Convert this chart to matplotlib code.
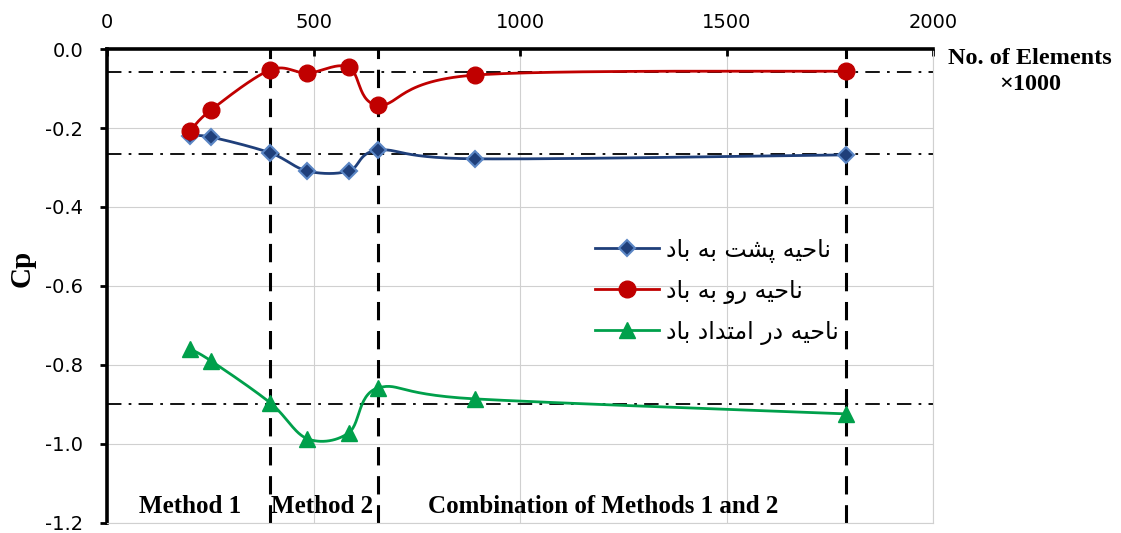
import numpy as np
import matplotlib
matplotlib.use("Agg")
import matplotlib.pyplot as plt
from matplotlib.lines import Line2D

# ---------------- data ----------------
elements = [200, 252, 395, 485, 585, 657, 890, 1790]          # x (No. of elements x1000)
cp_leeward = [-0.220, -0.223, -0.263, -0.309, -0.309, -0.256, -0.278, -0.268]
cp_windward = [-0.208, -0.154, -0.053, -0.061, -0.046, -0.142, -0.066, -0.056]
cp_along = [-0.759, -0.790, -0.896, -0.987, -0.972, -0.858, -0.886, -0.924]
ref_levels = [-0.058, -0.267, -0.900]
method_bounds = [395, 657, 1790]
label_leeward = "ناحیه پشت به باد"
label_windward = "ناحیه رو به باد"
label_along = "ناحیه در امتداد باد"
method_labels = ["Method 1", "Method 2", "Combination of Methods 1 and 2"]
method_label_x = [201, 521, 1202]
x_ticks = [0, 500, 1000, 1500, 2000]
y_ticks = [0.0, -0.2, -0.4, -0.6, -0.8, -1.0, -1.2]

# ------------- simple Persian shaping (presentation forms + RTL) -------------
FORMS = {
    'ا': ('\uFE8D', '\uFE8E', None, None),
    'ب': ('\uFE8F', '\uFE90', '\uFE91', '\uFE92'),
    'پ': ('\uFB56', '\uFB57', '\uFB58', '\uFB59'),
    'ت': ('\uFE95', '\uFE96', '\uFE97', '\uFE98'),
    'ح': ('\uFEA1', '\uFEA2', '\uFEA3', '\uFEA4'),
    'د': ('\uFEA9', '\uFEAA', None, None),
    'ر': ('\uFEAD', '\uFEAE', None, None),
    'ش': ('\uFEB5', '\uFEB6', '\uFEB7', '\uFEB8'),
    'م': ('\uFEE1', '\uFEE2', '\uFEE3', '\uFEE4'),
    'ن': ('\uFEE5', '\uFEE6', '\uFEE7', '\uFEE8'),
    'ه': ('\uFEE9', '\uFEEA', '\uFEEB', '\uFEEC'),
    'و': ('\uFEED', '\uFEEE', None, None),
    '\u06CC': ('\uFBFC', '\uFBFD', '\uFBFE', '\uFBFF'),
    '\u064A': ('\uFBFC', '\uFBFD', '\uFBFE', '\uFBFF'),
}


def shape(text):
    out = []
    n = len(text)
    for i, ch in enumerate(text):
        if ch not in FORMS:
            out.append(ch)
            continue
        f = FORMS[ch]
        prev_j = i > 0 and text[i - 1] in FORMS and FORMS[text[i - 1]][2] is not None
        next_j = (i < n - 1 and text[i + 1] in FORMS and f[2] is not None)
        if prev_j and next_j:
            out.append(f[3])
        elif prev_j:
            out.append(f[1])
        elif next_j:
            out.append(f[2])
        else:
            out.append(f[0])
    return ''.join(out)[::-1]


def smooth(x, y, n=30):
    """Catmull-Rom / Bezier smoothing of the connecting line (like Excel smooth line)."""
    x = np.asarray(x, float)
    y = np.asarray(y, float)
    P = np.column_stack([x, y])
    pts = []
    for i in range(len(P) - 1):
        p0 = P[i - 1] if i > 0 else P[i]
        p1 = P[i]
        p2 = P[i + 1]
        p3 = P[i + 2] if i + 2 < len(P) else P[i + 1]
        c1 = p1 + (p2 - p0) / 6.0
        c2 = p2 - (p3 - p1) / 6.0
        t = np.linspace(0, 1, n)[:, None]
        seg = ((1 - t) ** 3) * p1 + 3 * ((1 - t) ** 2) * t * c1 + 3 * (1 - t) * t ** 2 * c2 + t ** 3 * p2
        pts.append(seg if i == 0 else seg[1:])
    pts = np.vstack(pts)
    return pts[:, 0], pts[:, 1]


plt.rcParams['axes.unicode_minus'] = False

fig = plt.figure(figsize=(11.21, 5.33), dpi=100)
ax = fig.add_axes([0.0955, 0.019, 0.737, 0.889])

ax.set_xlim(0, 2000)
ax.set_ylim(-1.2, 0.0)

# grid
ax.set_xticks(x_ticks)
ax.set_yticks(y_ticks)
ax.grid(True, color='#d0d0d0', linewidth=0.8, zorder=0)

# reference horizontal dash-dot lines
for lv in ref_levels:
    ax.axhline(lv, color='black', linewidth=1.3, linestyle=(0, (8, 4, 1.5, 4)), zorder=2)

# method boundary dashed lines
for b in method_bounds:
    ax.axvline(b, color='black', linewidth=2.2, linestyle=(0, (6, 3.5)), zorder=2)

# series
c_blue = '#1F3F7A'
c_red = '#C00000'
c_green = '#00A04B'

sx, sy = smooth(elements, cp_leeward)
ax.plot(sx, sy, color=c_blue, linewidth=2, zorder=3)
ax.plot(elements, cp_leeward, linestyle='none', marker='D', markersize=8,
        markerfacecolor=c_blue, markeredgecolor='#5B86C5', markeredgewidth=1.5, zorder=4)

sx, sy = smooth(elements, cp_windward)
ax.plot(sx, sy, color=c_red, linewidth=2, zorder=3)
ax.plot(elements, cp_windward, linestyle='none', marker='o', markersize=12,
        markerfacecolor=c_red, markeredgecolor=c_red, zorder=4)

sx, sy = smooth(elements, cp_along)
ax.plot(sx, sy, color=c_green, linewidth=2, zorder=3)
ax.plot(elements, cp_along, linestyle='none', marker='^', markersize=12,
        markerfacecolor=c_green, markeredgecolor=c_green, zorder=4)

# spines and ticks
ax.xaxis.tick_top()
ax.spines['left'].set_linewidth(2.6)
ax.spines['top'].set_linewidth(2.6)
ax.spines['right'].set_color('#d0d0d0')
ax.spines['right'].set_linewidth(0.8)
ax.spines['bottom'].set_color('#d0d0d0')
ax.spines['bottom'].set_linewidth(0.8)
ax.tick_params(axis='x', direction='in', length=5, width=2, pad=12, labelsize=14,
               top=True, bottom=False, labeltop=True, labelbottom=False)
ax.tick_params(axis='y', direction='out', length=5, width=2, pad=12, labelsize=14)
ax.set_xticklabels([str(v) for v in x_ticks])
ax.set_yticklabels([f"{v:.1f}" for v in y_ticks])

fig.text(22 / 1121, 1 - 268 / 533, 'Cp', rotation=90, ha='center', va='center',
         fontfamily='Liberation Serif', fontweight='bold', fontsize=21)

fig.text(1030 / 1121, 1 - 58 / 533, 'No. of Elements', ha='center', va='center',
         fontfamily='Liberation Serif', fontweight='bold', fontsize=17.5)
fig.text(1030 / 1121, 1 - 84 / 533, '\u00d71000', ha='center', va='center',
         fontfamily='Liberation Serif', fontweight='bold', fontsize=17.5)

for lbl, xx in zip(method_labels, method_label_x):
    ax.text(xx, -1.159, lbl, ha='center', va='center', fontfamily='Liberation Serif',
            fontweight='bold', fontsize=18, zorder=5)

handles = [
    Line2D([], [], color=c_blue, linewidth=2, marker='D', markersize=8,
           markerfacecolor=c_blue, markeredgecolor='#5B86C5', markeredgewidth=1.5),
    Line2D([], [], color=c_red, linewidth=2, marker='o', markersize=12,
           markerfacecolor=c_red, markeredgecolor=c_red),
    Line2D([], [], color=c_green, linewidth=2, marker='^', markersize=12,
           markerfacecolor=c_green, markeredgecolor=c_green),
]
labels = [shape(label_leeward), shape(label_windward), shape(label_along)]
leg = ax.legend(handles, labels, loc='center left', bbox_to_anchor=(0.591, 0.489),
                frameon=False, borderpad=0, borderaxespad=0, handlelength=2.7,
                handletextpad=0.3, labelspacing=0.68,
                prop={'family': 'DejaVu Sans', 'size': 17})

fig.savefig('out.png', dpi=100)
